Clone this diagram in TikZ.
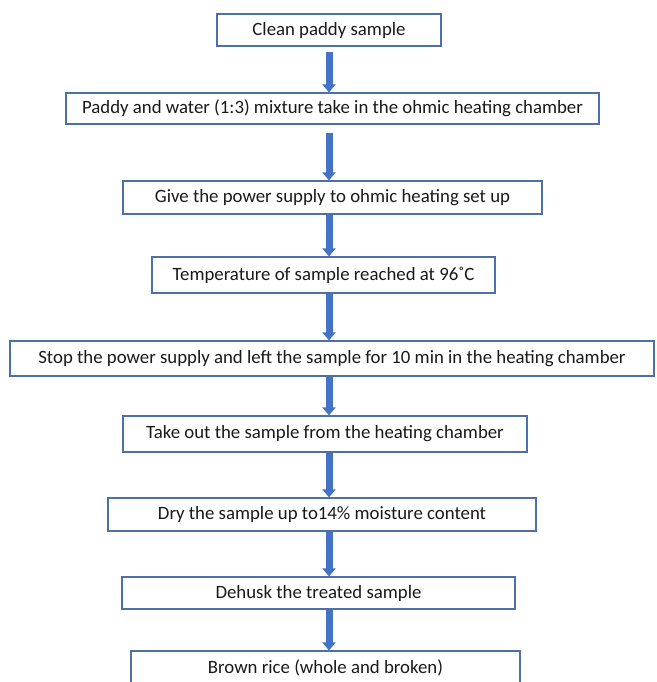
\documentclass[tikz,border=0pt]{standalone}
\usepackage{fontspec}
\setmainfont{Carlito}
\usetikzlibrary{arrows.meta}
\definecolor{arrowblue}{HTML}{4472C4}
\definecolor{boxline}{HTML}{4F6FA8}
\begin{document}
\begin{tikzpicture}[x=1pt,y=-1pt,
  stepbox/.style={draw=boxline,line width=1.2pt,rectangle,inner sep=0pt,
    font=\fontsize{18.8}{22}\selectfont,text=black!90},
  flowarrow/.style={draw=arrowblue,line width=7pt,
    -{Triangle[width=13pt,length=8pt]}}]
\useasboundingbox (0,0) rectangle (656,682);
\clip (0,0) rectangle (656,682);
\coordinate (ax) at (329,0);
\node[stepbox,minimum width=224pt,minimum height=32pt] (b1) at (329,30) {Clean paddy sample};
\node[stepbox,minimum width=533pt,minimum height=31pt] (b2) at (332.5,108.5) {Paddy and water (1:3) mixture take in the ohmic heating chamber};
\node[stepbox,minimum width=419pt,minimum height=33pt] (b3) at (332.5,197.5) {Give the power supply to ohmic heating set up};
\node[stepbox,minimum width=343pt,minimum height=36pt] (b4) at (323.5,275) {Temperature of sample reached at 96˚C};
\node[stepbox,minimum width=644pt,minimum height=35pt] (b5) at (332,358.5) {Stop the power supply and left the sample for 10 min in the heating chamber};
\node[stepbox,minimum width=404pt,minimum height=36pt] (b6) at (325,434) {Take out the sample from the heating chamber};
\node[stepbox,minimum width=428pt,minimum height=33pt] (b7) at (322,514.5) {Dry the sample up to14\% moisture content};
\node[stepbox,minimum width=393pt,minimum height=32pt] (b8) at (318.5,593) {Dehusk the treated sample};
\node[stepbox,minimum width=389pt,minimum height=34pt] (b9) at (325.5,668) {Brown rice (whole and broken)};
\draw[flowarrow,shorten <=5pt] (b1.south -| ax) -- (b2.north -| ax);
\draw[flowarrow,shorten <=8pt] (b2.south -| ax) -- (b3.north -| ax);
\draw[flowarrow] (b3.south -| ax) -- (b4.north -| ax);
\draw[flowarrow] (b4.south -| ax) -- (b5.north -| ax);
\draw[flowarrow] (b5.south -| ax) -- (b6.north -| ax);
\draw[flowarrow] (b6.south -| ax) -- (b7.north -| ax);
\draw[flowarrow] (b7.south -| ax) -- (b8.north -| ax);
\draw[flowarrow] (b8.south -| ax) -- (b9.north -| ax);
\end{tikzpicture}
\end{document}
